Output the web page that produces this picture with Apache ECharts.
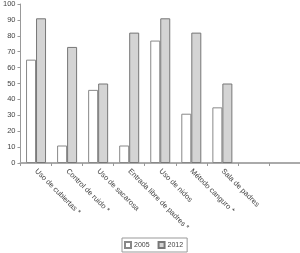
<!DOCTYPE html>
<html><head><meta charset="utf-8">
<script src="https://cdn.jsdelivr.net/npm/echarts@6/dist/echarts.min.js"></script>
<style>html,body{margin:0;padding:0;background:#fff}#c{width:300px;height:253px}</style>
</head><body><div id="c"></div>
<script>
var categories = ['Uso de cubiertas *','Control de ruido *','Uso de sacarosa','Entrada libre de padres *','Uso de nidos','Método canguro *','Sala de padres','',''];
var series2005 = [65, 11, 46, 11, 77, 31, 35, null, null];
var series2012 = [91, 73, 50, 82, 91, 82, 50, null, null];
var yTicks = [0,10,20,30,40,50,60,70,80,90,100];
var chart = echarts.init(document.getElementById('c'), null, {renderer:'canvas'});
chart.setOption({
  animation:false,
  textStyle:{fontFamily:'Liberation Sans, Arial, sans-serif'},
  grid:{left:16,right:0,top:4,bottom:90,containLabel:false},
  legend:{bottom:1,left:122,itemWidth:6,itemHeight:6,itemGap:8,
    icon:'rect',
    borderColor:'#999',borderWidth:1,padding:[3,4,3,2],
    textStyle:{fontSize:7,color:'#444',padding:[0,0,0,-2]},
    data:['2005','2012']},
  xAxis:{type:'category',data:categories,
    axisLine:{lineStyle:{color:'#aaa',width:2}},
    axisTick:{show:true,length:3,lineStyle:{color:'#999'}},
    axisLabel:{rotate:-45,interval:0,fontSize:7.5,color:'#444',margin:7,align:'left'}},
  yAxis:{type:'value',min:0,max:100,interval:10,
    axisLine:{show:true,lineStyle:{color:'#999'}},
    axisTick:{show:true,length:3,lineStyle:{color:'#999'}},
    splitLine:{show:false},
    axisLabel:{fontSize:7.5,color:'#444',margin:5}},
  series:[
    {name:'2005',type:'bar',data:series2005,barWidth:10,barGap:'0%',
     itemStyle:{color:'#ffffff',borderColor:'#888',borderWidth:1}},
    {name:'2012',type:'bar',data:series2012,barWidth:10,
     itemStyle:{color:'#d4d4d4',borderColor:'#777',borderWidth:1}}
  ]
});
</script></body></html>
